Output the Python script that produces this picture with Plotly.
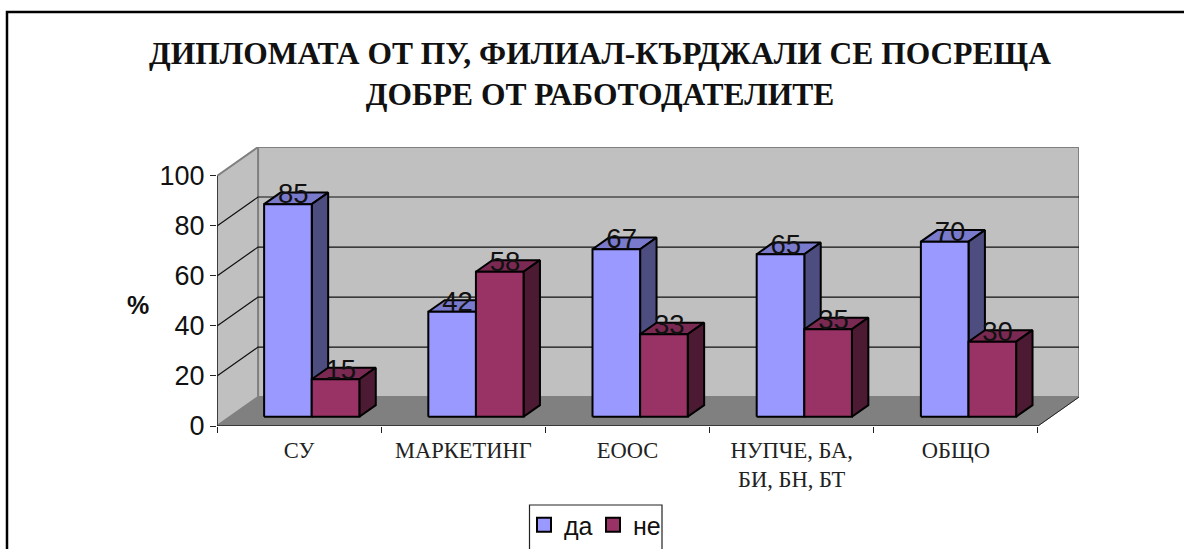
import plotly.graph_objects as go

categories = ["СУ", "МАРКЕТИНГ", "ЕООС", "НУПЧЕ, БА,<br>БИ, БН, БТ", "ОБЩО"]
da_values = [85, 42, 67, 65, 70]
ne_values = [15, 58, 33, 35, 30]
y_ticks = [0, 20, 40, 60, 80, 100]
title_text = "<b>ДИПЛОМАТА ОТ ПУ, ФИЛИАЛ-КЪРДЖАЛИ СЕ ПОСРЕЩА<br>ДОБРЕ ОТ РАБОТОДАТЕЛИТЕ</b>"

# pseudo-3D projection: depth 0..1 shifts a point right and up in data units
DX, DY = 0.25, 11.57
BAR_FRONT, BAR_BACK = 0.32, 0.72
GROUP_LEFT, BAR_W = 0.207, 0.29
LABEL_DROP = 1.6
PL, PR, PT, PB = 217, 1079, 147, 426   # plot box in page pixels


def proj(x, v, d):
    return x + d * DX, v + d * DY


def px(x):
    return (x - PL) / (PR - PL)


def py(y):
    return (PB - y) / (PB - PT)


fig = go.Figure()


def poly(points, fill, line="black", width=2):
    xs = [p[0] for p in points] + [points[0][0]]
    ys = [p[1] for p in points] + [points[0][1]]
    fig.add_trace(go.Scatter(x=xs, y=ys, mode="lines", fill="toself", fillcolor=fill,
                             line=dict(color=line, width=width), showlegend=False,
                             hoverinfo="skip"))


def seg(points, color="black", width=1.0):
    fig.add_trace(go.Scatter(x=[p[0] for p in points], y=[p[1] for p in points], mode="lines",
                             line=dict(color=color, width=width), showlegend=False,
                             hoverinfo="skip"))


def box(x0, w, v, front, side, top):
    a, b = BAR_FRONT, BAR_BACK
    poly([proj(x0, v, a), proj(x0, v, b), proj(x0 + w, v, b), proj(x0 + w, v, a)], top)
    poly([proj(x0 + w, 0, a), proj(x0 + w, 0, b), proj(x0 + w, v, b), proj(x0 + w, v, a)], side)
    poly([proj(x0, 0, a), proj(x0 + w, 0, a), proj(x0 + w, v, a), proj(x0, v, a)], front)


n = len(categories)
ymax = y_ticks[-1]
WALL, FLOOR, EDGE = "#C0C0C0", "#808080", "#808080"

poly([proj(0, 0, 1), proj(n, 0, 1), proj(n, ymax, 1), proj(0, ymax, 1)], WALL, EDGE, 2)
poly([proj(0, 0, 0), proj(0, 0, 1), proj(0, ymax, 1), proj(0, ymax, 0)], WALL, EDGE, 2)
poly([proj(0, 0, 0), proj(n, 0, 0), proj(n, 0, 1), proj(0, 0, 1)], FLOOR, EDGE, 1)

for t in y_ticks[1:-1]:
    seg([proj(0, t, 0), proj(0, t, 1), proj(n, t, 1)], "#111111", 1.2)

seg([proj(n, 0, 0), proj(n, 0, 1)], "#222222", 1)
seg([(0, 0), (0, ymax)], "#222222", 1.4)
seg([(0, 0), (n, 0)], "#222222", 1.4)

for i in range(n):
    x0 = i + GROUP_LEFT
    box(x0, BAR_W, da_values[i], "#9999FF", "#4D4D80", "#7A7ACC")
    box(x0 + BAR_W, BAR_W, ne_values[i], "#993366", "#4D1A33", "#7A2952")

lab_x, lab_y, lab_t = [], [], []
for i in range(n):
    x0 = i + GROUP_LEFT
    for k, vals in enumerate((da_values, ne_values)):
        c = x0 + BAR_W * (k + 0.5)
        lab_x.append(proj(c, vals[i], 0.45)[0])
        lab_y.append(proj(c, vals[i], BAR_BACK)[1] - LABEL_DROP)
        lab_t.append(str(vals[i]))
fig.add_trace(go.Scatter(x=lab_x, y=lab_y, text=lab_t, mode="text", textposition="middle center",
                         textfont=dict(family="Liberation Sans", size=27.5, color="#111111"),
                         showlegend=False, hoverinfo="skip", cliponaxis=False))

for name, color in (("да", "#9999FF"), ("не", "#993366")):
    fig.add_trace(go.Scatter(x=[None], y=[None], mode="markers", name=name,
                             marker=dict(symbol="square", size=14, color=color,
                                         line=dict(color="black", width=2))))

fig.update_layout(
    width=1184, height=549, autosize=False,
    margin=dict(l=PL, r=1184 - PR, t=PT, b=549 - PB, autoexpand=False),
    paper_bgcolor="white", plot_bgcolor="white",
    title=dict(text=title_text, xref="container", yref="container", x=600 / 1184, xanchor="center",
               y=1 - 64 / 549, yanchor="top",
               font=dict(family="Liberation Serif", size=31.5, color="#111111")),
    xaxis=dict(range=[0, n + DX], showgrid=False, zeroline=False, showline=False,
               tickmode="array", tickvals=[i + 0.5 for i in range(n)], ticktext=categories,
               ticks="outside", ticklen=4, tickcolor="rgba(0,0,0,0)", tickangle=0,
               tickfont=dict(family="Liberation Serif", size=22.5, color="#222222"),
               minor=dict(tickmode="array", tickvals=list(range(n + 1)), ticks="outside",
                          ticklen=6, tickcolor="#222222", tickwidth=1.2, showgrid=False)),
    yaxis=dict(range=[0, ymax + DY], showgrid=False, zeroline=False, showline=False,
               tickmode="array", tickvals=y_ticks, ticks="outside", ticklen=6,
               tickcolor="#222222", tickwidth=1.2,
               tickfont=dict(family="Liberation Sans", size=27, color="#111111")),
    showlegend=True,
    legend=dict(orientation="h", xref="container", yref="container", x=524 / 1184, xanchor="left",
                y=1 - 502 / 549, yanchor="top", bgcolor="rgba(0,0,0,0)", borderwidth=0,
                font=dict(family="Liberation Sans", size=25, color="#111111"),
                itemwidth=30, entrywidth=24, entrywidthmode="pixels",
                itemclick=False, itemdoubleclick=False),
    shapes=[
        dict(type="rect", xref="paper", yref="paper", x0=px(7), x1=px(1300), y0=py(700), y1=py(12),
             line=dict(color="black", width=2.5), layer="below"),
        dict(type="rect", xref="paper", yref="paper", x0=px(529.5), x1=px(662), y0=py(600), y1=py(505),
             line=dict(color="#222222", width=1.2), layer="below"),
    ],
    annotations=[
        dict(text="<b>%</b>", xref="paper", yref="paper", x=px(138), y=py(305), showarrow=False,
             xanchor="center", yanchor="middle",
             font=dict(family="Liberation Sans", size=25, color="#111111")),
    ],
)

fig.write_html("out.html", config={"displayModeBar": False},
               post_script="document.body.style.margin='0';document.body.style.overflow='hidden';")
